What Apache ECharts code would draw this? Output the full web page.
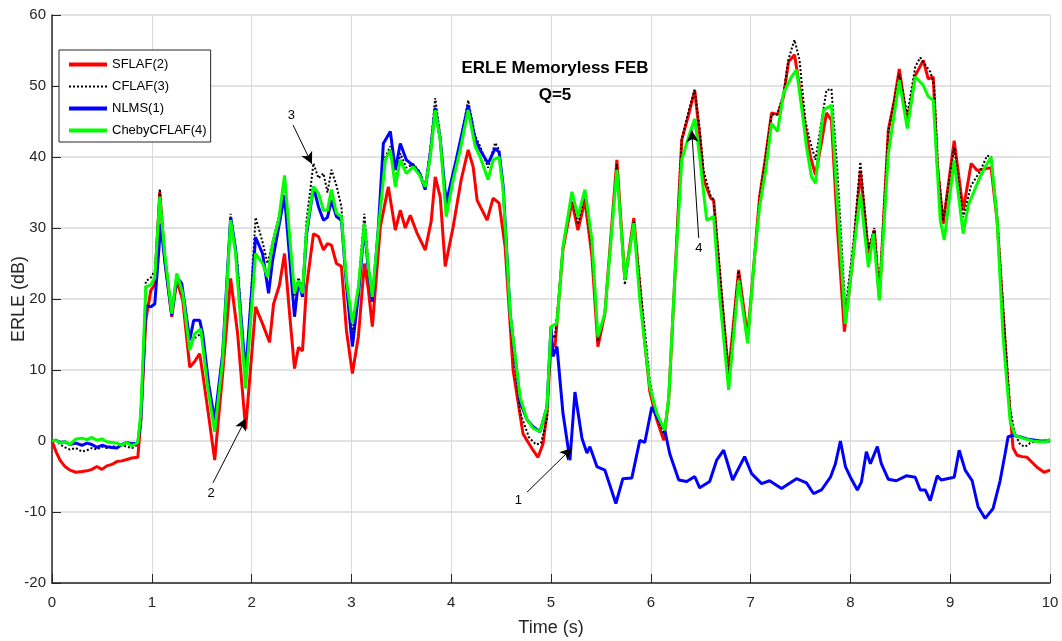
<!DOCTYPE html>
<html>
<head>
<meta charset="utf-8">
<title>ERLE Memoryless FEB</title>
<script src="https://cdn.jsdelivr.net/npm/echarts@6/dist/echarts.min.js"></script>
<style>
  html, body { margin: 0; padding: 0; background: #fff; }
  #chart { width: 1062px; height: 641px; }
</style>
</head>
<body>
<div id="chart"></div>
<script>
// Data (time in s, ERLE in dB)
const sflafT = [0, 0.04, 0.08, 0.13, 0.18, 0.24, 0.3, 0.35, 0.4, 0.45, 0.5, 0.55, 0.6, 0.65, 0.7, 0.75, 0.8, 0.86, 0.89, 0.94, 0.99, 1.03, 1.08, 1.13, 1.2, 1.25, 1.31, 1.38, 1.43, 1.48, 1.51, 1.57, 1.63, 1.71, 1.79, 1.86, 1.94, 2.04, 2.11, 2.18, 2.22, 2.28, 2.33, 2.38, 2.43, 2.47, 2.51, 2.55, 2.62, 2.67, 2.72, 2.76, 2.8, 2.85, 2.9, 2.95, 3.01, 3.07, 3.13, 3.17, 3.21, 3.29, 3.37, 3.44, 3.49, 3.54, 3.59, 3.66, 3.74, 3.8, 3.84, 3.89, 3.94, 4.02, 4.1, 4.17, 4.22, 4.26, 4.36, 4.42, 4.48, 4.54, 4.62, 4.72, 4.82, 4.87, 4.92, 4.96, 5.0, 5.04, 5.12, 5.21, 5.27, 5.34, 5.41, 5.47, 5.54, 5.66, 5.74, 5.83, 5.93, 5.99, 6.06, 6.13, 6.18, 6.24, 6.31, 6.38, 6.44, 6.49, 6.53, 6.6, 6.63, 6.71, 6.78, 6.88, 6.97, 7.04, 7.09, 7.15, 7.21, 7.27, 7.33, 7.38, 7.44, 7.49, 7.55, 7.6, 7.65, 7.71, 7.76, 7.81, 7.87, 7.94, 8.03, 8.1, 8.18, 8.24, 8.29, 8.38, 8.44, 8.49, 8.57, 8.65, 8.73, 8.78, 8.83, 8.87, 8.93, 9.04, 9.13, 9.21, 9.27, 9.37, 9.41, 9.47, 9.53, 9.58, 9.63, 9.67, 9.72, 9.77, 9.82, 9.87, 9.94, 10];
const sflafV = [0, -1.5, -2.7, -3.6, -4.1, -4.4, -4.3, -4.2, -4.0, -3.6, -4.0, -3.5, -3.3, -2.9, -2.8, -2.6, -2.4, -2.3, 2.9, 17, 21.2, 22, 35.1, 25.4, 17.5, 22.6, 19.8, 10.4, 11.2, 12.3, 9.5, 3.5, -2.7, 9.5, 22.9, 15.1, 1.7, 18.9, 16.5, 13.9, 19.3, 22, 26.4, 18, 10.2, 13.2, 12.7, 21.7, 29.2, 28.8, 26.9, 27.8, 27.6, 25, 24.6, 15.6, 9.5, 14.7, 25, 21.3, 16.1, 30.2, 35.8, 29.7, 32.5, 30, 31.8, 29.2, 26.9, 31, 37.2, 34.4, 24.6, 30.2, 36.8, 41, 38.6, 33.9, 31.1, 34.2, 33.5, 27.4, 10, 1, -1.3, -2.3, -0.4, 4, 13.7, 13.3, 27, 33.7, 29.7, 33.9, 26, 13.3, 18, 39.6, 22.7, 31.4, 15.2, 7, 3, 0.1, 6, 22.7, 42.4, 46, 49.4, 43, 36.8, 34.2, 33.9, 20, 9.5, 24.1, 14.7, 26, 34.4, 40, 46.2, 46, 48.5, 53.4, 54.4, 49.9, 44, 40, 37.5, 42, 46.2, 45.2, 30, 15.4, 26.4, 38.1, 26.4, 29.7, 20, 43.8, 48, 52.4, 44.7, 51.5, 53.6, 51, 51.3, 39.1, 30.6, 42.3, 32.5, 39.1, 38.1, 38.4, 38.5, 31, 18, 7.6, -1, -2, -2.2, -2.3, -3, -3.7, -4.4, -4.1];

const cflafT = [0, 0.04, 0.08, 0.13, 0.18, 0.24, 0.3, 0.35, 0.4, 0.45, 0.5, 0.55, 0.6, 0.65, 0.7, 0.75, 0.8, 0.86, 0.89, 0.94, 0.99, 1.03, 1.08, 1.13, 1.2, 1.25, 1.31, 1.38, 1.43, 1.48, 1.51, 1.57, 1.63, 1.71, 1.79, 1.86, 1.94, 2.04, 2.11, 2.16, 2.21, 2.28, 2.33, 2.38, 2.43, 2.47, 2.51, 2.55, 2.62, 2.67, 2.72, 2.76, 2.8, 2.85, 2.9, 2.95, 3.01, 3.07, 3.13, 3.17, 3.21, 3.27, 3.34, 3.39, 3.44, 3.49, 3.55, 3.62, 3.68, 3.74, 3.79, 3.84, 3.89, 3.95, 4.02, 4.09, 4.17, 4.24, 4.29, 4.37, 4.44, 4.48, 4.52, 4.59, 4.69, 4.78, 4.85, 4.9, 4.96, 5.0, 5.04, 5.12, 5.21, 5.27, 5.34, 5.41, 5.47, 5.54, 5.66, 5.74, 5.83, 5.93, 5.99, 6.06, 6.13, 6.18, 6.24, 6.31, 6.38, 6.44, 6.49, 6.53, 6.6, 6.63, 6.71, 6.78, 6.88, 6.97, 7.04, 7.09, 7.15, 7.21, 7.27, 7.33, 7.38, 7.44, 7.49, 7.55, 7.6, 7.65, 7.71, 7.76, 7.81, 7.87, 7.95, 8.03, 8.1, 8.18, 8.24, 8.29, 8.38, 8.44, 8.49, 8.57, 8.65, 8.7, 8.8, 8.84, 8.88, 8.93, 9.04, 9.13, 9.21, 9.3, 9.37, 9.41, 9.47, 9.53, 9.6, 9.65, 9.7, 9.75, 9.8, 9.87, 9.94, 10];
const cflafV = [0, 0.2, -0.5, -0.9, -1.2, -1.0, -1.5, -1.3, -1.0, -1.2, -0.8, -1.0, -0.7, -0.9, -0.6, -0.8, -1.0, -0.5, 3, 22.5, 23, 24, 35.5, 26.5, 18, 23.5, 21, 13.5, 14.5, 15, 14.5, 7, 1.8, 12, 32, 25, 8, 31.5, 28, 25, 28, 32, 36.8, 28, 20.5, 23, 21.5, 31, 39.1, 37, 37.7, 35, 38.2, 36, 33, 22, 15, 22, 32, 25, 20, 30, 40, 41.5, 36.5, 40.5, 38.5, 39, 38, 36, 41, 48.3, 43, 32.5, 37.5, 42, 48, 43, 41.5, 38.5, 42, 41, 36, 17, 4, 0.5, -0.5, -0.3, 3, 15, 14.5, 27.5, 34.5, 30.5, 34.8, 27, 14, 18, 39, 22, 31, 17, 8.5, 3.5, 1, 6, 23, 42.5, 46.5, 49.5, 44, 38, 34.5, 34, 21, 9, 24, 14, 26, 34, 40, 46, 46, 49, 53.8, 56.5, 53.7, 45, 42, 39.6, 45, 49.4, 49.6, 38, 18.4, 28, 39.3, 27, 30, 21, 43.5, 48, 51.7, 46, 52.7, 54, 52, 50, 38, 31, 41.4, 31.5, 36, 38, 40.2, 40, 32, 19, 4.5, 1, -0.5, -0.8, -0.3, 0, 0, 0.2];

const nlmsT = [0, 0.04, 0.08, 0.13, 0.18, 0.24, 0.3, 0.35, 0.4, 0.45, 0.5, 0.55, 0.6, 0.65, 0.7, 0.75, 0.8, 0.86, 0.89, 0.94, 0.99, 1.03, 1.09, 1.13, 1.2, 1.25, 1.3, 1.38, 1.42, 1.48, 1.51, 1.57, 1.63, 1.71, 1.79, 1.84, 1.94, 2.04, 2.11, 2.17, 2.21, 2.27, 2.33, 2.38, 2.43, 2.47, 2.51, 2.55, 2.62, 2.67, 2.72, 2.76, 2.8, 2.85, 2.9, 2.95, 3.01, 3.07, 3.13, 3.17, 3.21, 3.27, 3.32, 3.39, 3.44, 3.49, 3.55, 3.62, 3.68, 3.74, 3.79, 3.84, 3.89, 3.95, 4.05, 4.17, 4.24, 4.29, 4.37, 4.44, 4.48, 4.52, 4.59, 4.69, 4.76, 4.82, 4.89, 4.96, 5.0, 5.02, 5.06, 5.12, 5.19, 5.24, 5.31, 5.36, 5.39, 5.46, 5.54, 5.65, 5.72, 5.81, 5.89, 5.94, 6.01, 6.06, 6.14, 6.19, 6.28, 6.36, 6.44, 6.49, 6.59, 6.66, 6.73, 6.82, 6.94, 7.01, 7.11, 7.19, 7.31, 7.46, 7.56, 7.63, 7.71, 7.8, 7.85, 7.9, 7.95, 8.0, 8.07, 8.11, 8.16, 8.2, 8.27, 8.31, 8.38, 8.46, 8.56, 8.65, 8.7, 8.75, 8.8, 8.87, 8.91, 9.04, 9.09, 9.15, 9.22, 9.28, 9.35, 9.43, 9.5, 9.55, 9.58, 9.63, 9.7, 9.77, 9.9, 10];
const nlmsV = [0, 0.1, -0.2, -0.1, -0.5, -0.3, -0.6, -0.3, -0.5, -0.9, -0.6, -0.8, -0.9, -1.0, -0.5, -0.2, -0.4, -0.3, 3, 19, 18.9, 19.3, 30.6, 25.4, 17.7, 23.1, 22.2, 14.2, 17, 17, 15.1, 8, 2.9, 12.3, 31.5, 27, 9.5, 28.7, 26.4, 20.8, 25.4, 30, 34.6, 26, 17.5, 22.6, 20.3, 29, 35.8, 33, 31.1, 31.5, 33.9, 31.6, 31.1, 22, 13.3, 20.5, 30.2, 24, 19.6, 30, 41.9, 43.6, 38.2, 41.9, 39.6, 38.8, 37.8, 35.4, 40.5, 46.9, 42.5, 33.5, 39.6, 47.3, 42.5, 41, 39.1, 41.2, 40.7, 36, 18, 5.5, 3, 2, 1.3, 4.8, 16.1, 11.9, 13.3, 3.9, -2.7, 6.9, 0.4, -1.7, -0.8, -3.6, -4.1, -8.8, -5.3, -5.2, 0.1, -0.2, 4.8, 3.4, 1.5, -1.8, -5.5, -5.7, -5, -6.6, -5.7, -2.7, -1.3, -5.5, -2.2, -4.6, -6, -5.6, -6.7, -5.3, -5.9, -7.4, -6.9, -5.1, -3.2, 0, -3.6, -5.1, -6.9, -5.8, -1.5, -3.2, -0.8, -3.2, -5.4, -5.6, -4.9, -5.1, -6.9, -6.9, -8.4, -4.9, -5.5, -5.1, -1.3, -4.1, -5.6, -9.3, -10.9, -9.5, -5.6, -1.8, 0.6, 0.8, 0.6, 0.3, 0, 0];

const chebyT = [0, 0.04, 0.08, 0.13, 0.18, 0.24, 0.3, 0.35, 0.4, 0.45, 0.5, 0.55, 0.6, 0.65, 0.7, 0.75, 0.8, 0.86, 0.89, 0.94, 0.99, 1.03, 1.08, 1.13, 1.2, 1.25, 1.31, 1.38, 1.43, 1.49, 1.56, 1.63, 1.71, 1.79, 1.84, 1.94, 2.04, 2.11, 2.16, 2.21, 2.27, 2.33, 2.38, 2.43, 2.47, 2.51, 2.55, 2.62, 2.67, 2.72, 2.76, 2.8, 2.85, 2.9, 2.95, 3.01, 3.07, 3.13, 3.17, 3.21, 3.27, 3.34, 3.39, 3.44, 3.49, 3.55, 3.62, 3.68, 3.74, 3.79, 3.84, 3.89, 3.95, 4.02, 4.09, 4.17, 4.24, 4.29, 4.37, 4.42, 4.48, 4.52, 4.59, 4.69, 4.76, 4.82, 4.89, 4.96, 5.0, 5.06, 5.12, 5.21, 5.27, 5.34, 5.41, 5.47, 5.54, 5.66, 5.74, 5.83, 5.89, 5.99, 6.06, 6.14, 6.18, 6.24, 6.31, 6.38, 6.44, 6.49, 6.56, 6.63, 6.69, 6.78, 6.88, 6.97, 7.04, 7.09, 7.15, 7.21, 7.27, 7.33, 7.41, 7.46, 7.52, 7.56, 7.61, 7.65, 7.73, 7.81, 7.86, 7.95, 8.03, 8.1, 8.18, 8.23, 8.29, 8.38, 8.49, 8.57, 8.65, 8.73, 8.78, 8.83, 8.9, 8.94, 9.04, 9.13, 9.18, 9.3, 9.35, 9.41, 9.47, 9.53, 9.6, 9.65, 9.75, 9.83, 9.9, 9.97, 10];
const chebyV = [0, 0.1, -0.3, -0.1, -0.5, 0.3, 0.4, 0.2, 0.5, 0.1, 0.3, -0.1, -0.2, -0.3, -0.6, -0.2, -0.7, -0.2, 4, 21.7, 22, 23, 34.4, 26.4, 17.9, 23.6, 20.8, 12.8, 15.1, 15.8, 7.6, 1.3, 11.4, 31.1, 26.4, 7.4, 26.4, 25, 23.1, 27.8, 31, 37.4, 29, 20.8, 22.6, 20.8, 29.7, 35.8, 34.9, 32.5, 32.5, 35.4, 32.1, 31.6, 22.7, 16.6, 21.7, 30.7, 24.6, 20.3, 29.7, 39.6, 41, 35.8, 39.6, 37.7, 38.6, 37.5, 35.8, 40, 46.6, 42.4, 31.6, 36.8, 41, 46.6, 41.5, 40, 36.8, 39.6, 40, 35.4, 18, 6.2, 3, 1.8, 1.3, 4.8, 16.1, 16.6, 27.4, 35.1, 31.6, 35.4, 28.3, 14.7, 18, 38.2, 22.7, 30.7, 19.8, 7.7, 3.9, 1.5, 6.2, 22.7, 39.6, 42.9, 45.4, 40, 31.1, 31.6, 20.3, 7.2, 22.7, 13.8, 26, 33, 38, 44.7, 43.6, 49, 51.3, 52.3, 46, 41.4, 37.2, 36.3, 46.6, 47.3, 35.8, 16.5, 26.4, 34.8, 24.5, 29.2, 19.8, 40.5, 50.8, 44, 51.3, 50.1, 48.5, 48, 31.1, 28.3, 39.5, 29.2, 33.2, 37.2, 38.6, 40, 31.1, 14.6, 2.9, 0.8, 0.3, 0, -0.1, -0.1, 0.2];

const xTicks = [0, 1, 2, 3, 4, 5, 6, 7, 8, 9, 10];
const yTicks = [-20, -10, 0, 10, 20, 30, 40, 50, 60];

// numbered arrows: [label, fromX, fromY, toX, toY]
const arrows = [
    ['3', 2.415, 44.5, 2.605, 39.0],
    ['2', 1.613, -5.9, 1.944, 3.2],
    ['1', 4.76, -7.2, 5.21, -1.0],
    ['4', 6.48, 28.6, 6.41, 43.8]
];

const FONT = 'Liberation Sans, Arial, sans-serif';

function pairs(t, v) {
    return t.map(function (x, i) { return [x, v[i]]; });
}

const chart = echarts.init(document.getElementById('chart'), null, { renderer: 'canvas' });

const option = {
    animation: false,
    backgroundColor: '#ffffff',
    title: {
        text: 'ERLE Memoryless FEB\nQ=5',
        left: 550,
        top: 50,
        textAlign: 'center',
        textStyle: {
            fontFamily: FONT,
            fontSize: 17,
            fontWeight: 'bold',
            color: '#000',
            lineHeight: 27
        }
    },
    legend: {
        data: [
            { name: 'SFLAF(2)', lineStyle: { width: 4 } },
            { name: 'CFLAF(3)', lineStyle: { width: 2 } },
            { name: 'NLMS(1)', lineStyle: { width: 4 } },
            { name: 'ChebyCFLAF(4)', lineStyle: { width: 4 } }
        ],
        orient: 'vertical',
        left: 59,
        top: 50,
        padding: [8, 4, 5, 8],
        itemWidth: 38,
        itemHeight: 14,
        itemGap: 9,
        borderColor: '#262626',
        borderWidth: 1,
        backgroundColor: '#fff',
        itemStyle: { opacity: 0 },
        textStyle: { fontFamily: FONT, fontSize: 13, color: '#000' }
    },
    grid: { left: 52, right: 12, top: 15, bottom: 58, containLabel: false, outerBoundsMode: 'none' },
    xAxis: {
        type: 'value',
        min: 0,
        max: 10,
        interval: 1,
        name: 'Time (s)',
        nameLocation: 'middle',
        nameGap: 36,
        nameTextStyle: { fontFamily: FONT, fontSize: 18, color: '#262626' },
        axisLine: { onZero: false, lineStyle: { color: '#262626', width: 1.5 } },
        axisTick: { inside: true, length: 9, lineStyle: { color: '#262626' } },
        axisLabel: {
            fontFamily: FONT, fontSize: 15, color: '#262626', margin: 12,
            formatter: function (v) { return xTicks.indexOf(v) >= 0 ? String(v) : ''; }
        },
        splitLine: { show: true, lineStyle: { color: '#d9d9d9', width: 1 } }
    },
    yAxis: {
        type: 'value',
        min: -20,
        max: 60,
        interval: 10,
        name: 'ERLE (dB)',
        nameLocation: 'middle',
        nameGap: 24,
        nameMoveOverlap: false,
        nameTextStyle: { fontFamily: FONT, fontSize: 18, color: '#262626' },
        axisLine: { show: true, onZero: false, lineStyle: { color: '#262626', width: 1.5 } },
        axisTick: { show: true, inside: true, length: 9, lineStyle: { color: '#262626' } },
        axisLabel: {
            fontFamily: FONT, fontSize: 15, color: '#262626', margin: 6,
            formatter: function (v) { return yTicks.indexOf(v) >= 0 ? String(v) : ''; }
        },
        splitLine: { show: true, lineStyle: { color: '#d9d9d9', width: 1.5 } }
    },
    series: [
        {
            name: 'SFLAF(2)', type: 'line', symbol: 'none',
            data: pairs(sflafT, sflafV),
            lineStyle: { color: '#ff0000', width: 3 },
            itemStyle: { color: '#ff0000' }
        },
        {
            name: 'CFLAF(3)', type: 'line', symbol: 'none',
            data: pairs(cflafT, cflafV),
            lineStyle: { color: '#000000', width: 2, type: [2, 2] },
            itemStyle: { color: '#000000' }
        },
        {
            name: 'NLMS(1)', type: 'line', symbol: 'none',
            data: pairs(nlmsT, nlmsV),
            lineStyle: { color: '#0000ff', width: 3 },
            itemStyle: { color: '#0000ff' }
        },
        {
            name: 'ChebyCFLAF(4)', type: 'line', symbol: 'none',
            data: pairs(chebyT, chebyV),
            lineStyle: { color: '#00ff00', width: 3 },
            itemStyle: { color: '#00ff00' }
        },
        {
            // annotation arrows
            name: 'arrows', type: 'line', data: [], silent: true,
            markLine: {
                silent: true,
                animation: false,
                symbol: ['none', 'arrow'],
                symbolSize: [9, 12],
                lineStyle: { color: '#000', width: 1, type: 'solid' },
                label: {
                    show: true,
                    position: 'start',
                    distance: 4,
                    fontFamily: FONT,
                    fontSize: 13,
                    color: '#000'
                },
                data: arrows.map(function (a) {
                    return [
                        { coord: [a[1], a[2]], label: { formatter: a[0], distance: a[0] === '1' ? 12 : 4 } },
                        { coord: [a[3], a[4]] }
                    ];
                })
            }
        }
    ]
};

chart.setOption(option);
</script>
</body>
</html>
